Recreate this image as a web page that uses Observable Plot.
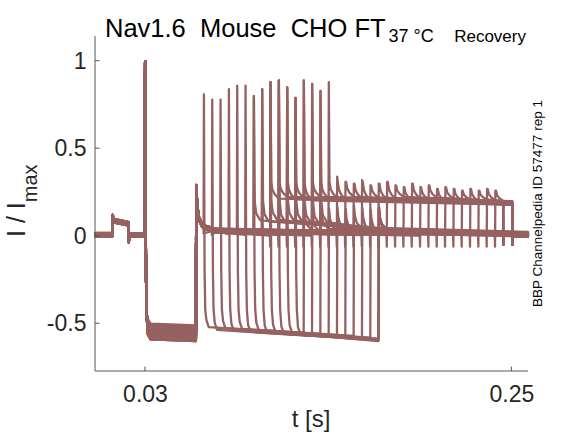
<!DOCTYPE html>
<html><head><meta charset="utf-8">
<script src="https://cdn.jsdelivr.net/npm/d3@7"></script>
<script src="https://cdn.jsdelivr.net/npm/@observablehq/plot@0.6"></script>
<style>body{margin:0;background:#fff;} svg{display:block;}</style>
</head><body><div id="chart"></div>
<script>
// ---- axis ticks ----
const xTicks = [0.03, 0.25];
const xTickLabels = ["0.03", "0.25"];
const yTicks = [-0.5, 0, 0.5, 1];
const yTickLabels = ["-0.5", "0", "0.5", "1"];

// ---- common part of every sweep ----
const preT = [0, 0.0101, 0.0103, 0.0112, 0.0198, 0.0200, 0.0203, 0.0296];
const preV = [0.005, 0.005, 0.11, 0.085, 0.068, -0.03, 0.004, 0.004];
const p1Peak = 1.0;
const p1T = [0.0298, 0.0303, 0.0307, 0.0313, 0.0330, 0.0603];
const p1Fall = [-0.2, -0.44];           // fall of first peak
const postT = [0.0605, 0.0611, 0.0620, 0.0640, 0.0665, 0.0720];
const postV = [0.28, 0.17, 0.10, 0.06, 0.045, 0.03];
const recLevel = 0.012;
const tEnd = 0.2597;

// ---- group A: test pulse with level near -0.55 ----
const aStart = [0.065,0.070,0.075,0.080,0.085,0.090,0.095,0.100,0.105,0.110,0.115,0.120];
const aPeak  = [0.81,0.78,0.78,0.84,0.86,0.86,0.80,0.84,0.88,0.89,0.85,0.79];
const aEnd   = [0.125,0.130,0.135,0.140,0.145,0.150,0.155,0.160,0.165,0.170,0.1700,0.1698];
const aLvlStart = [-0.52,-0.535,-0.525,-0.54,-0.53,-0.545,-0.535,-0.55,-0.545,-0.555,-0.55,-0.56];
const aLvlEnd   = [-0.555,-0.57,-0.56,-0.575,-0.565,-0.58,-0.57,-0.59,-0.58,-0.595,-0.585,-0.60];
const aBase = [0.004,-0.006,0.012,0.0,0.008,-0.004,0.014,0.002,-0.008,0.01,0.006,-0.002];
const aP1   = [-0.52,-0.55,-0.57,-0.53,-0.58,-0.54,-0.56,-0.51,-0.57,-0.55,-0.53,-0.59];

// ---- group B: test pulse with level near 0.2 ----
const bStart = [0.105,0.110,0.115,0.120,0.125,0.130,0.135,0.140,0.145,0.150,0.155,0.160,0.165,0.170,
                0.175,0.180,0.185,0.190,0.195,0.200,0.205,0.210,0.215,0.220,0.225,0.230,0.235,0.240];
const bPeak  = [0.88,0.89,0.85,0.79,0.89,0.87,0.83,0.88,0.34,0.31,0.30,0.32,0.29,0.30,
                0.31,0.29,0.28,0.30,0.28,0.29,0.27,0.28,0.27,0.26,0.27,0.26,0.27,0.26];
const bEnd   = [0.2502,0.2502,0.2502,0.2448,0.2502,0.2502,0.2502,0.2502,0.2502,0.2448,0.2502,0.2502,0.2502,0.2502,
                0.2502,0.2448,0.2502,0.2502,0.2502,0.2502,0.2502,0.2448,0.2502,0.2502,0.2502,0.2502,0.2502,0.2502];
const bLvlStart = [0.215,0.225,0.21,0.22,0.205,0.225,0.215,0.22,0.21,0.225,0.215,0.205,0.22,0.21,
                   0.215,0.225,0.205,0.215,0.21,0.22,0.2,0.215,0.205,0.21,0.2,0.21,0.205,0.2];
const bLvlEnd   = [0.19,0.2,0.185,0.195,0.18,0.2,0.19,0.195,0.185,0.2,0.19,0.18,0.195,0.185,
                   0.19,0.2,0.18,0.19,0.185,0.195,0.18,0.19,0.185,0.19,0.18,0.19,0.185,0.185];
const bBase = [0.006,-0.004,0.01,0.0,0.012,-0.008,0.004,0.008,-0.002,0.014,0.002,-0.006,0.01,0.004,
               -0.004,0.008,0.0,0.012,-0.008,0.006,0.002,0.01,-0.002,0.004,0.008,-0.006,0.0,0.006];
const bP1   = [-0.53,-0.56,-0.51,-0.58,-0.54,-0.55,-0.57,-0.52,-0.59,-0.55,-0.53,-0.56,-0.50,-0.57,
               -0.54,-0.58,-0.52,-0.55,-0.56,-0.53,-0.59,-0.54,-0.51,-0.57,-0.55,-0.52,-0.58,-0.54];

// ---- group C: test pulse with level near 0.08 ----
const cStart = [0.095,0.100,0.105,0.110,0.115,0.120,0.125,0.130,0.135];
const cPeak  = [0.80,0.84,0.88,0.89,0.85,0.79,0.89,0.87,0.83];
const cLvl   = [0.09,0.085,0.095,0.08,0.09,0.085,0.08,0.075,0.08];
const cBase  = [0.002,0.01,-0.004,0.008,0.0,0.012,-0.006,0.006,0.004];
const cP1    = [-0.55,-0.52,-0.57,-0.54,-0.56,-0.53,-0.58,-0.55,-0.51];

const rows = [];
let sid = 0;
function sweep(b, l1, tail) {
  const pts = [];
  preT.forEach((t, i) => pts.push([t, preV[i] + b]));
  pts.push([p1T[0], p1Peak]);
  pts.push([p1T[1], p1Fall[0]]);
  pts.push([p1T[2], p1Fall[1]]);
  pts.push([p1T[3], l1 + 0.03]);
  pts.push([p1T[4], l1]);
  pts.push([p1T[5], l1 - 0.01]);
  postT.forEach((t, i) => pts.push([t, postV[i] + b]));
  tail.forEach(p => pts.push(p));
  pts.forEach(([t, v]) => rows.push({sweep: sid, t, v}));
  sid++;
}
aStart.forEach((s, i) => {
  const b = aBase[i], e = aEnd[i];
  sweep(b, aP1[i], [
    [s - 0.0001, recLevel + b], [s + 0.0001, aPeak[i]], [s + 0.0005, -0.2], [s + 0.0009, -0.42],
    [s + 0.0016, aLvlStart[i] + 0.04], [s + 0.003, aLvlStart[i]], [e, aLvlEnd[i]],
    [e + 0.0002, 0.16 + b], [e + 0.0008, 0.10 + b], [e + 0.002, 0.06 + b], [e + 0.005, 0.03 + b],
    [tEnd, 0.006 + b]
  ]);
});
bStart.forEach((s, i) => {
  const b = bBase[i], e = bEnd[i], p = bPeak[i], l = bLvlStart[i];
  const top = Math.min(p, 0.31);
  sweep(b, bP1[i], [
    [s - 0.0003, recLevel + b], [s - 0.0001, -0.06], [s + 0.0001, p], [s + 0.0005, top],
    [s + 0.0012, l + (top - l) * 0.55], [s + 0.0025, l + (top - l) * 0.28], [s + 0.005, l],
    [e, bLvlEnd[i]], [e + 0.0001, -0.05], [e + 0.0005, 0.005 + b], [tEnd, 0.004 + b]
  ]);
});
cStart.forEach((s, i) => {
  const b = cBase[i], l = cLvl[i];
  sweep(b, cP1[i], [
    [s - 0.0001, recLevel + b], [s + 0.0001, cPeak[i]], [s + 0.0006, 0.2], [s + 0.0015, l + 0.04],
    [s + 0.004, l], [0.17, 0.035 + b], [tEnd, 0.012 + b]
  ]);
});

const font = "Liberation Sans, Arial, Helvetica, sans-serif";
const plot = Plot.plot({
  width: 583, height: 438,
  marginLeft: 95, marginRight: 55, marginTop: 36, marginBottom: 67,
  style: {fontFamily: font, fontSize: "23px", color: "#262626", background: "#fff"},
  x: {domain: [0, 0.26]},
  y: {domain: [-0.773, 1.141]},
  marks: [
    Plot.line(rows, {x: "t", y: "v", z: "sweep", stroke: "#956161", strokeWidth: 2.3}),
    Plot.axisX(xTicks, {tickSize: 0, tickPadding: 14, fontSize: 23, label: null,
      tickFormat: d => xTickLabels[xTicks.indexOf(d)]}),
    Plot.axisY(yTicks, {tickSize: 0, tickPadding: 9, fontSize: 23, label: null,
      tickFormat: d => yTickLabels[yTicks.indexOf(d)]})
  ]
});
document.getElementById("chart").appendChild(plot);

const svg = d3.select(plot);
const xs = plot.scale("x"), ys = plot.scale("y");
const x0 = xs.range[0], x1 = xs.range[1], y0 = ys.range[0], y1 = ys.range[1];
const ax = svg.append("g").attr("stroke", "#555").attr("stroke-width", 1);
ax.append("line").attr("x1", x0).attr("x2", x0).attr("y1", y1).attr("y2", y0);
ax.append("line").attr("x1", x0).attr("x2", x1).attr("y1", y0).attr("y2", y0);
yTicks.forEach(v => { const y = ys.apply(v);
  ax.append("line").attr("x1", x0).attr("x2", x0 + 4.5).attr("y1", y).attr("y2", y); });
xTicks.forEach(v => { const x = xs.apply(v);
  ax.append("line").attr("x1", x).attr("x2", x).attr("y1", y0).attr("y2", y0 - 4.5); });

const T = svg.append("g").attr("font-family", font).attr("text-anchor", "start").style("white-space", "pre");
T.append("text").attr("x", 105).attr("y", 37.2).attr("font-size", 25.5).attr("fill", "#000")
  .text("Nav1.6  Mouse  CHO FT");
T.append("text").attr("x", 388.5).attr("y", 41.6).attr("font-size", 18).attr("fill", "#000").text("37 °C");
T.append("text").attr("x", 526).attr("y", 41.6).attr("text-anchor", "end").attr("font-size", 17)
  .attr("fill", "#000").text("Recovery");
const yl = T.append("text").attr("transform", "translate(25,237) rotate(-90)")
  .attr("font-size", 25).attr("fill", "#262626");
yl.append("tspan").text("I / I");
yl.append("tspan").attr("font-size", 20).attr("dy", 12).text("max");
T.append("text").attr("x", 311).attr("y", 427).attr("text-anchor", "middle")
  .attr("font-size", 24).attr("fill", "#262626").text("t [s]");
T.append("text").attr("transform", "translate(541.5,307) rotate(-90)")
  .attr("font-size", 13.5).attr("fill", "#000").text("BBP Channelpedia ID 57477 rep 1");
</script>
</body></html>
